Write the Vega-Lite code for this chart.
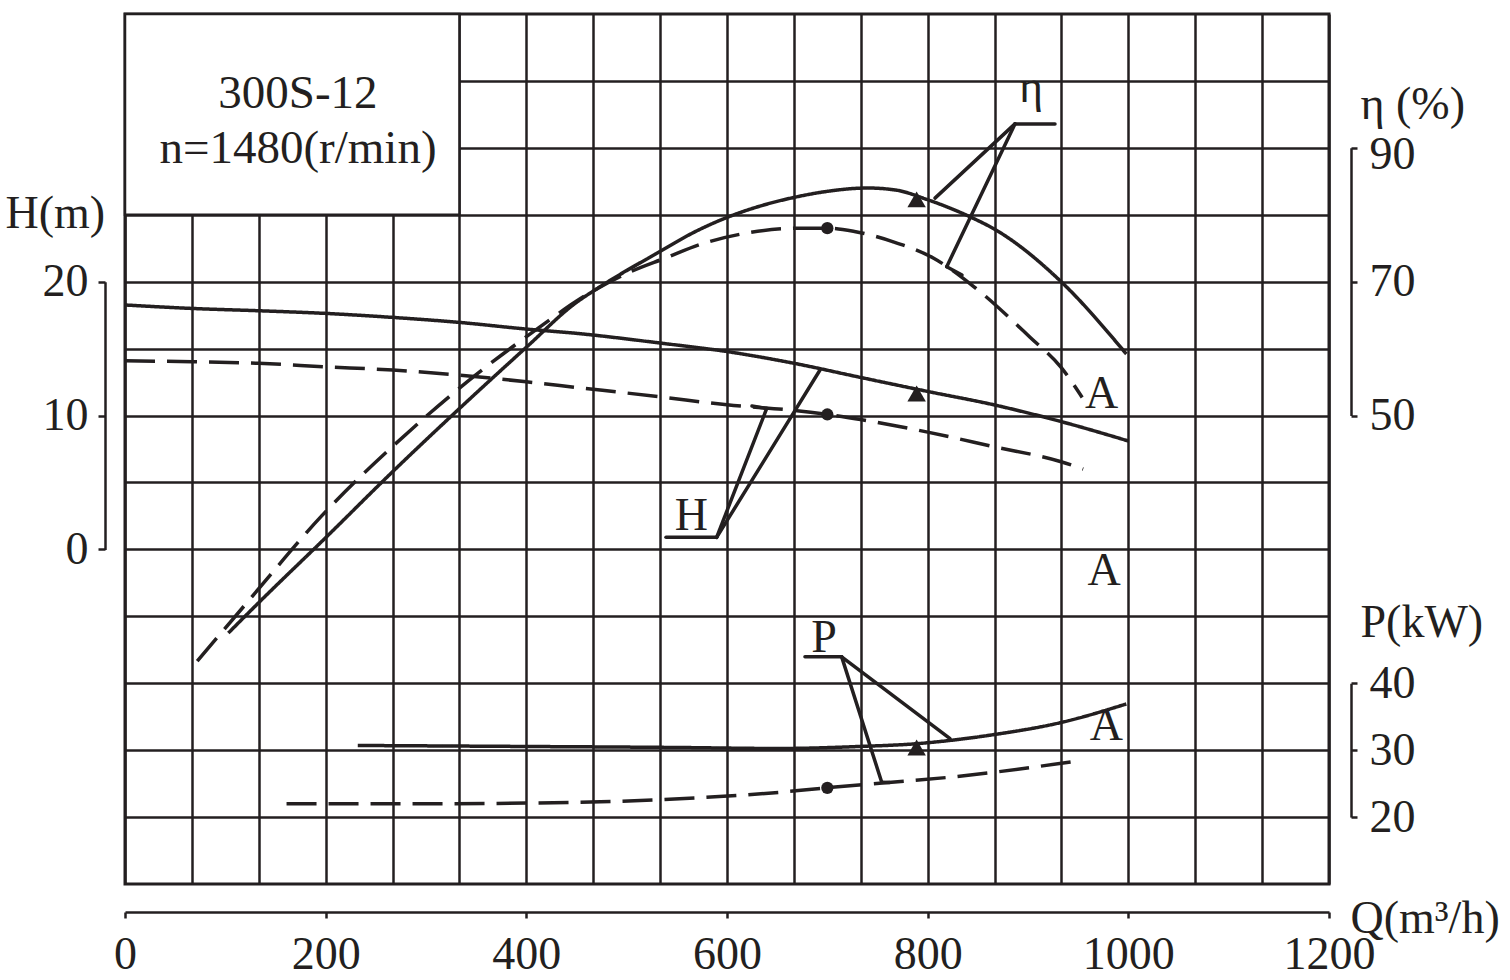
{
  "$schema": "https://vega.github.io/schema/vega-lite/v6.json",
  "width": 1204,
  "height": 870,
  "autosize": {"type": "none"},
  "padding": {"left": 125, "top": 14, "right": 181, "bottom": 96},
  "background": "white",
  "config": {
    "view": {"stroke": "#231f20", "strokeWidth": 3},
    "font": "Liberation Serif",
    "axis": {
      "domainColor": "#231f20", "domainWidth": 2.5, "domainCap": "butt",
      "tickColor": "#231f20", "tickWidth": 2.5,
      "labelColor": "#231f20", "titleColor": "#231f20",
      "labelFont": "Liberation Serif", "titleFont": "Liberation Serif",
      "labelFontSize": 46, "titleFontSize": 46, "titleFontWeight": "normal",
      "labelFlush": false, "labelOverlap": false,
      "gridColor": "#231f20", "gridWidth": 2.5, "gridOpacity": 1
    }
  },
  "datasets": {
    "head": [
      {"Q": 0, "H": 18.26, "impeller": "full"}, {"Q": 67, "H": 18.0, "impeller": "full"}, {"Q": 133, "H": 17.83, "impeller": "full"},
      {"Q": 200, "H": 17.63, "impeller": "full"}, {"Q": 267, "H": 17.33, "impeller": "full"}, {"Q": 333, "H": 16.96, "impeller": "full"},
      {"Q": 400, "H": 16.46, "impeller": "full"}, {"Q": 450, "H": 16.14, "impeller": "full"}, {"Q": 533, "H": 15.42, "impeller": "full"},
      {"Q": 600, "H": 14.78, "impeller": "full"}, {"Q": 667, "H": 13.9, "impeller": "full"}, {"Q": 733, "H": 12.85, "impeller": "full"},
      {"Q": 800, "H": 11.8, "impeller": "full"}, {"Q": 866, "H": 10.8, "impeller": "full"}, {"Q": 933, "H": 9.55, "impeller": "full"},
      {"Q": 1000, "H": 8.1, "impeller": "full"},
      {"Q": 0, "H": 14.09, "impeller": "A"}, {"Q": 67, "H": 14.02, "impeller": "A"}, {"Q": 133, "H": 13.9, "impeller": "A"},
      {"Q": 200, "H": 13.64, "impeller": "A"}, {"Q": 267, "H": 13.4, "impeller": "A"}, {"Q": 333, "H": 13.02, "impeller": "A"},
      {"Q": 400, "H": 12.52, "impeller": "A"}, {"Q": 450, "H": 12.1, "impeller": "A"}, {"Q": 533, "H": 11.4, "impeller": "A"},
      {"Q": 600, "H": 10.8, "impeller": "A"}, {"Q": 667, "H": 10.38, "impeller": "A"}, {"Q": 700, "H": 10.08, "impeller": "A"},
      {"Q": 733, "H": 9.7, "impeller": "A"}, {"Q": 800, "H": 8.76, "impeller": "A"}, {"Q": 866, "H": 7.67, "impeller": "A"},
      {"Q": 933, "H": 6.55, "impeller": "A"}, {"Q": 955, "H": 6.0, "impeller": "A"}
    ],
    "efficiency": [
      {"Q": 103, "eta": 17.5, "impeller": "full"}, {"Q": 133, "eta": 22.0, "impeller": "full"}, {"Q": 200, "eta": 31.75, "impeller": "full"},
      {"Q": 266, "eta": 41.5, "impeller": "full"}, {"Q": 333, "eta": 51.0, "impeller": "full"}, {"Q": 400, "eta": 60.2, "impeller": "full"},
      {"Q": 449, "eta": 66.8, "impeller": "full"}, {"Q": 473, "eta": 69.2, "impeller": "full"}, {"Q": 533, "eta": 74.5, "impeller": "full"},
      {"Q": 566, "eta": 77.3, "impeller": "full"}, {"Q": 600, "eta": 79.6, "impeller": "full"}, {"Q": 633, "eta": 81.3, "impeller": "full"},
      {"Q": 667, "eta": 82.6, "impeller": "full"}, {"Q": 700, "eta": 83.5, "impeller": "full"}, {"Q": 740, "eta": 84.0, "impeller": "full"},
      {"Q": 768, "eta": 83.7, "impeller": "full"}, {"Q": 799, "eta": 82.3, "impeller": "full"},
      {"Q": 845, "eta": 79.5, "impeller": "full"}, {"Q": 866, "eta": 77.9, "impeller": "full"}, {"Q": 933, "eta": 70.0, "impeller": "full"},
      {"Q": 998, "eta": 59.2, "impeller": "full"},
      {"Q": 72, "eta": 13.3, "impeller": "A"}, {"Q": 123, "eta": 22.3, "impeller": "A"}, {"Q": 196, "eta": 35.0, "impeller": "A"},
      {"Q": 286, "eta": 48.0, "impeller": "A"}, {"Q": 349, "eta": 56.0, "impeller": "A"}, {"Q": 416, "eta": 63.5, "impeller": "A"},
      {"Q": 449, "eta": 67.0, "impeller": "A"}, {"Q": 504, "eta": 71.5, "impeller": "A"}, {"Q": 538, "eta": 73.5, "impeller": "A"},
      {"Q": 576, "eta": 75.7, "impeller": "A"}, {"Q": 617, "eta": 77.2, "impeller": "A"}, {"Q": 672, "eta": 78.0, "impeller": "A"},
      {"Q": 700, "eta": 78.0, "impeller": "A"}, {"Q": 727, "eta": 77.5, "impeller": "A"}, {"Q": 765, "eta": 76.0, "impeller": "A"},
      {"Q": 806, "eta": 73.5, "impeller": "A"}, {"Q": 844, "eta": 69.5, "impeller": "A"}, {"Q": 902, "eta": 61.7, "impeller": "A"},
      {"Q": 933, "eta": 57.2, "impeller": "A"}, {"Q": 954, "eta": 52.7, "impeller": "A"}
    ],
    "power": [
      {"Q": 232, "P": 30.7, "impeller": "full"}, {"Q": 400, "P": 30.55, "impeller": "full"}, {"Q": 550, "P": 30.4, "impeller": "full"},
      {"Q": 652, "P": 30.25, "impeller": "full"}, {"Q": 732, "P": 30.55, "impeller": "full"}, {"Q": 792, "P": 31.0, "impeller": "full"},
      {"Q": 822, "P": 31.45, "impeller": "full"}, {"Q": 865, "P": 32.3, "impeller": "full"}, {"Q": 932, "P": 34.1, "impeller": "full"},
      {"Q": 998, "P": 36.9, "impeller": "full"},
      {"Q": 161, "P": 22.0, "impeller": "A"}, {"Q": 300, "P": 22.0, "impeller": "A"}, {"Q": 450, "P": 22.2, "impeller": "A"},
      {"Q": 573, "P": 22.9, "impeller": "A"}, {"Q": 652, "P": 23.7, "impeller": "A"}, {"Q": 699, "P": 24.37, "impeller": "A"},
      {"Q": 752, "P": 25.06, "impeller": "A"}, {"Q": 825, "P": 26.0, "impeller": "A"}, {"Q": 953, "P": 28.46, "impeller": "A"}
    ],
    "duty": [
      {"Q": 789, "H": 11.65, "eta": 82.3, "P": 30.4, "impeller": "full"},
      {"Q": 700, "H": 10.08, "eta": 78.0, "P": 24.37, "impeller": "A"}
    ],
    "leaders": [
      {"curve": "H", "Q1": 539.2, "v1": 0.897, "Q2": 589.7, "v2": 0.897},
      {"curve": "H", "Q1": 589.7, "v1": 0.897, "Q2": 639.6, "v2": 10.53},
      {"curve": "H", "Q1": 639.6, "v1": 10.53, "Q2": 624.9, "v2": 10.71},
      {"curve": "H", "Q1": 589.7, "v1": 0.897, "Q2": 692.7, "v2": 13.4},
      {"curve": "eta", "Q1": 887.0, "v1": 93.58, "Q2": 926.9, "v2": 93.58},
      {"curve": "eta", "Q1": 887.0, "v1": 93.58, "Q2": 807.3, "v2": 82.49},
      {"curve": "eta", "Q1": 887.0, "v1": 93.58, "Q2": 819.0, "v2": 72.24},
      {"curve": "eta", "Q1": 819.0, "v1": 72.24, "Q2": 834.2, "v2": 70.99},
      {"curve": "P", "Q1": 677.7, "v1": 43.94, "Q2": 714.3, "v2": 43.94},
      {"curve": "P", "Q1": 714.3, "v1": 43.94, "Q2": 822.3, "v2": 31.72},
      {"curve": "P", "Q1": 714.3, "v1": 43.94, "Q2": 754.2, "v2": 25.21},
      {"curve": "P", "Q1": 754.2, "v1": 25.21, "Q2": 762.1, "v2": 25.17}
    ],
    "labels": [
      {"curve": "H", "text": "H", "Q": 564.6, "v": 1.44},
      {"curve": "H", "text": "A", "Q": 975.8, "v": -2.67},
      {"curve": "eta", "text": "η", "Q": 902.9, "v": 96.8},
      {"curve": "eta", "text": "A", "Q": 973.3, "v": 51.2},
      {"curve": "P", "text": "P", "Q": 696.7, "v": 44.64},
      {"curve": "P", "text": "A", "Q": 978.2, "v": 31.46}
    ]
  },
  "layer": [
    {
      "data": {"values": [{"caption": "300S-12\nn=1480(r/min)"}]},
      "layer": [
        {
          "mark": {"type": "rect", "fill": "white", "stroke": "#231f20", "strokeWidth": 2.5},
          "encoding": {
            "x": {"datum": 0, "type": "quantitative", "scale": {"domain": [0, 1200], "nice": false, "zero": false},
              "axis": {
                "orient": "bottom", "offset": 28, "grid": true, "format": "d",
                "values": [0, 66.6667, 133.3333, 200, 266.6667, 333.3333, 400, 466.6667, 533.3333, 600, 666.6667, 733.3333, 800, 866.6667, 933.3333, 1000, 1066.6667, 1133.3333, 1200],
                "labelExpr": "datum.value % 200 === 0 ? datum.label : ''",
                "tickOpacity": {"condition": {"test": "datum.value % 200 === 0", "value": 1}, "value": 0},
                "tickSize": 6, "labelPadding": 14,
                "title": "Q(m³/h)", "titleX": 1225, "titleY": 20, "titleAlign": "left", "titleBaseline": "alphabetic", "titleAngle": 0
              }},
            "x2": {"datum": 333.3333},
            "y": {"datum": 13, "type": "quantitative", "scale": {"domain": [0, 13], "nice": false, "zero": false},
              "axis": {"orient": "left", "grid": true, "values": [1, 2, 3, 4, 5, 6, 7, 8, 9, 10, 11, 12], "domain": false, "ticks": false, "labels": false, "title": null}},
            "y2": {"datum": 10}
          }
        },
        {
          "mark": {"type": "text", "align": "center", "baseline": "alphabetic", "lineBreak": "\n", "lineHeight": 55, "fontSize": 47, "font": "Liberation Serif", "color": "#231f20"},
          "encoding": {
            "x": {"datum": 172.4, "type": "quantitative", "scale": {"domain": [0, 1200]}},
            "y": {"datum": 11.595, "type": "quantitative"},
            "text": {"field": "caption", "type": "nominal"}
          }
        }
      ]
    },
    {
      "layer": [
        {
          "data": {"name": "head"},
          "mark": {"type": "line", "interpolate": "monotone", "strokeWidth": 3.5, "color": "#231f20"},
          "encoding": {
            "x": {"field": "Q", "type": "quantitative", "scale": {"domain": [0, 1200]}},
            "y": {"field": "H", "type": "quantitative", "scale": {"domain": [0, 20], "range": [535.38, 267.69], "nice": false, "zero": false},
              "axis": {"orient": "left", "offset": 20, "values": [0, 10, 20], "grid": false, "tickSize": 7, "labelPadding": 10,
                "title": "H(m)", "titleX": -100, "titleY": 213, "titleAlign": "left", "titleBaseline": "alphabetic", "titleAngle": 0}},
            "strokeDash": {"field": "impeller", "type": "nominal", "scale": {"domain": ["full", "A"], "range": [[1, 0], [30, 12]]}, "legend": null}
          }
        },
        {
          "data": {"name": "duty"},
          "mark": {"type": "point", "filled": true, "color": "#231f20", "opacity": 1},
          "encoding": {
            "x": {"field": "Q", "type": "quantitative", "scale": {"domain": [0, 1200]}},
            "y": {"field": "H", "type": "quantitative", "scale": {"domain": [0, 20], "range": [535.38, 267.69], "nice": false, "zero": false}},
            "shape": {"field": "impeller", "type": "nominal", "scale": {"domain": ["full", "A"], "range": ["triangle-up", "circle"]}, "legend": null},
            "size": {"condition": {"test": "datum.impeller === 'full'", "value": 340}, "value": 150}
          }
        },
        {
          "data": {"name": "leaders"},
          "transform": [{"filter": "datum.curve === 'H'"}],
          "mark": {"type": "rule", "strokeWidth": 3.5, "color": "#231f20", "strokeCap": "round"},
          "encoding": {
            "x": {"field": "Q1", "type": "quantitative", "scale": {"domain": [0, 1200]}},
            "x2": {"field": "Q2"},
            "y": {"field": "v1", "type": "quantitative", "scale": {"domain": [0, 20], "range": [535.38, 267.69], "nice": false, "zero": false}},
            "y2": {"field": "v2"}
          }
        },
        {
          "data": {"name": "labels"},
          "transform": [{"filter": "datum.curve === 'H'"}],
          "mark": {"type": "text", "align": "center", "baseline": "alphabetic", "fontSize": 46, "font": "Liberation Serif", "color": "#231f20"},
          "encoding": {
            "x": {"field": "Q", "type": "quantitative", "scale": {"domain": [0, 1200]}},
            "y": {"field": "v", "type": "quantitative", "scale": {"domain": [0, 20], "range": [535.38, 267.69], "nice": false, "zero": false}},
            "text": {"field": "text", "type": "nominal"}
          }
        }
      ]
    },
    {
      "layer": [
        {
          "data": {"name": "efficiency"},
          "mark": {"type": "line", "interpolate": "monotone", "strokeWidth": 3.5, "color": "#231f20"},
          "encoding": {
            "x": {"field": "Q", "type": "quantitative", "scale": {"domain": [0, 1200]}},
            "y": {"field": "eta", "type": "quantitative", "scale": {"domain": [50, 90], "range": [401.54, 133.85], "nice": false, "zero": false},
              "axis": {"orient": "right", "offset": 22, "values": [50, 70, 90], "grid": false, "tickSize": 6, "labelPadding": 12,
                "labelOffset": {"condition": {"test": "datum.value === 90", "value": 7}, "value": 0},
                "title": "η (%)", "titleX": 9, "titleY": 104, "titleAlign": "left", "titleBaseline": "alphabetic", "titleAngle": 0}},
            "strokeDash": {"field": "impeller", "type": "nominal", "scale": {"domain": ["full", "A"], "range": [[1, 0], [30, 12]]}, "legend": null}
          }
        },
        {
          "data": {"name": "duty"},
          "mark": {"type": "point", "filled": true, "color": "#231f20", "opacity": 1},
          "encoding": {
            "x": {"field": "Q", "type": "quantitative", "scale": {"domain": [0, 1200]}},
            "y": {"field": "eta", "type": "quantitative", "scale": {"domain": [50, 90], "range": [401.54, 133.85], "nice": false, "zero": false}},
            "shape": {"field": "impeller", "type": "nominal", "scale": {"domain": ["full", "A"], "range": ["triangle-up", "circle"]}, "legend": null},
            "size": {"condition": {"test": "datum.impeller === 'full'", "value": 340}, "value": 150}
          }
        },
        {
          "data": {"name": "leaders"},
          "transform": [{"filter": "datum.curve === 'eta'"}],
          "mark": {"type": "rule", "strokeWidth": 3.5, "color": "#231f20", "strokeCap": "round"},
          "encoding": {
            "x": {"field": "Q1", "type": "quantitative", "scale": {"domain": [0, 1200]}},
            "x2": {"field": "Q2"},
            "y": {"field": "v1", "type": "quantitative", "scale": {"domain": [50, 90], "range": [401.54, 133.85], "nice": false, "zero": false}},
            "y2": {"field": "v2"}
          }
        },
        {
          "data": {"name": "labels"},
          "transform": [{"filter": "datum.curve === 'eta'"}],
          "mark": {"type": "text", "align": "center", "baseline": "alphabetic", "fontSize": 46, "font": "Liberation Serif", "color": "#231f20"},
          "encoding": {
            "x": {"field": "Q", "type": "quantitative", "scale": {"domain": [0, 1200]}},
            "y": {"field": "v", "type": "quantitative", "scale": {"domain": [50, 90], "range": [401.54, 133.85], "nice": false, "zero": false}},
            "text": {"field": "text", "type": "nominal"}
          }
        }
      ]
    },
    {
      "layer": [
        {
          "data": {"name": "power"},
          "mark": {"type": "line", "interpolate": "monotone", "strokeWidth": 3.5, "color": "#231f20"},
          "encoding": {
            "x": {"field": "Q", "type": "quantitative", "scale": {"domain": [0, 1200]}},
            "y": {"field": "P", "type": "quantitative", "scale": {"domain": [20, 40], "range": [803.08, 669.23], "nice": false, "zero": false},
              "axis": {"orient": "right", "offset": 22, "values": [20, 30, 40], "grid": false, "tickSize": 6, "labelPadding": 12,
                "title": "P(kW)", "titleX": 9, "titleY": 622, "titleAlign": "left", "titleBaseline": "alphabetic", "titleAngle": 0}},
            "strokeDash": {"field": "impeller", "type": "nominal", "scale": {"domain": ["full", "A"], "range": [[1, 0], [30, 12]]}, "legend": null}
          }
        },
        {
          "data": {"name": "duty"},
          "mark": {"type": "point", "filled": true, "color": "#231f20", "opacity": 1},
          "encoding": {
            "x": {"field": "Q", "type": "quantitative", "scale": {"domain": [0, 1200]}},
            "y": {"field": "P", "type": "quantitative", "scale": {"domain": [20, 40], "range": [803.08, 669.23], "nice": false, "zero": false}},
            "shape": {"field": "impeller", "type": "nominal", "scale": {"domain": ["full", "A"], "range": ["triangle-up", "circle"]}, "legend": null},
            "size": {"condition": {"test": "datum.impeller === 'full'", "value": 340}, "value": 150}
          }
        },
        {
          "data": {"name": "leaders"},
          "transform": [{"filter": "datum.curve === 'P'"}],
          "mark": {"type": "rule", "strokeWidth": 3.5, "color": "#231f20", "strokeCap": "round"},
          "encoding": {
            "x": {"field": "Q1", "type": "quantitative", "scale": {"domain": [0, 1200]}},
            "x2": {"field": "Q2"},
            "y": {"field": "v1", "type": "quantitative", "scale": {"domain": [20, 40], "range": [803.08, 669.23], "nice": false, "zero": false}},
            "y2": {"field": "v2"}
          }
        },
        {
          "data": {"name": "labels"},
          "transform": [{"filter": "datum.curve === 'P'"}],
          "mark": {"type": "text", "align": "center", "baseline": "alphabetic", "fontSize": 46, "font": "Liberation Serif", "color": "#231f20"},
          "encoding": {
            "x": {"field": "Q", "type": "quantitative", "scale": {"domain": [0, 1200]}},
            "y": {"field": "v", "type": "quantitative", "scale": {"domain": [20, 40], "range": [803.08, 669.23], "nice": false, "zero": false}},
            "text": {"field": "text", "type": "nominal"}
          }
        }
      ]
    }
  ],
  "resolve": {"scale": {"y": "independent"}}
}
